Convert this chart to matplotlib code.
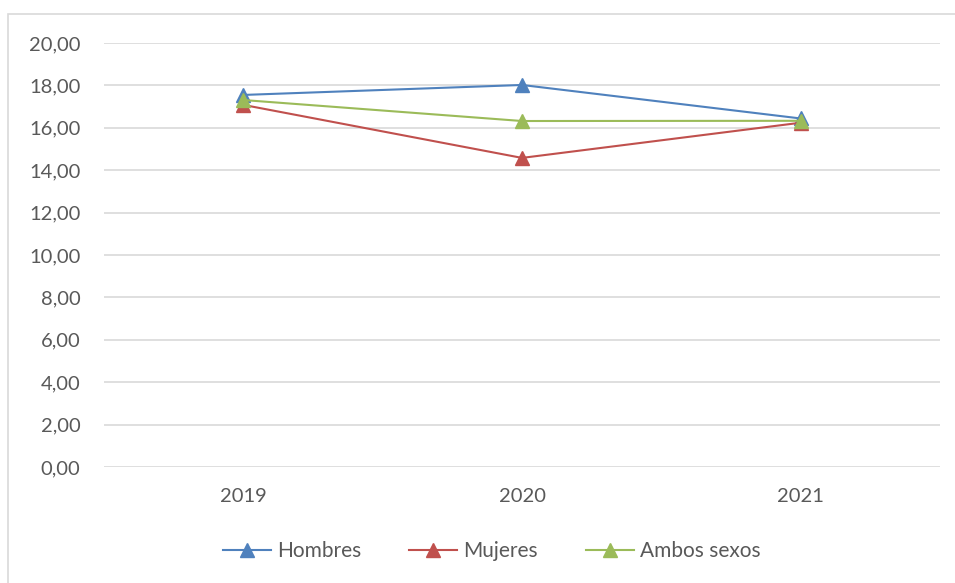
import matplotlib.pyplot as plt
from matplotlib.patches import Rectangle

# Series values per year
years = ['2019', '2020', '2021']
hombres = [17.55, 18.02, 16.44]
mujeres = [17.08, 14.58, 16.24]
ambos = [17.31, 16.32, 16.33]

series = [
    ('Hombres', hombres, '#4F81BD'),
    ('Mujeres', mujeres, '#C0504D'),
    ('Ambos sexos', ambos, '#9BBB59'),
]

plt.rcParams['font.family'] = ['Lato', 'DejaVu Sans']

fig = plt.figure(figsize=(9.55, 5.83), dpi=100)
ax = fig.add_axes([104 / 955, 116 / 583, 836 / 955, 424 / 583])

# light outer frame (cut at right and bottom)
fig.patches.append(Rectangle((8 / 955, -0.1), 1.2, (583 - 14) / 583 + 0.1,
                             transform=fig.transFigure, fill=False,
                             edgecolor='#D9D9D9', linewidth=1.2))

x = range(len(years))
for name, vals, col in series:
    ax.plot(x, vals, color=col, linewidth=1.5, marker='^', markersize=10,
            markerfacecolor=col, markeredgecolor=col, label=name, zorder=3)

ax.set_xlim(-0.5, 2.5)
ax.set_ylim(0, 20)
ax.set_yticks(range(0, 21, 2))
ax.set_yticklabels([f'{v:.2f}'.replace('.', ',') for v in range(0, 21, 2)])
ax.set_xticks(list(x))
ax.set_xticklabels(years)

ax.grid(axis='y', color='#D9D9D9', linewidth=1.2)
ax.set_axisbelow(True)
for s in ax.spines.values():
    s.set_visible(False)
ax.tick_params(axis='both', length=0, labelsize=14.5, labelcolor='#595959')
ax.tick_params(axis='y', pad=17)
ax.tick_params(axis='x', pad=15)

ax.legend(loc='center', bbox_to_anchor=(492 / 955, 32 / 583),
          bbox_transform=fig.transFigure, ncol=3, frameon=False,
          fontsize=15, labelcolor='#595959', handlelength=2.3,
          columnspacing=2.3, handletextpad=0.3)

fig.savefig('out.png', dpi=100)
